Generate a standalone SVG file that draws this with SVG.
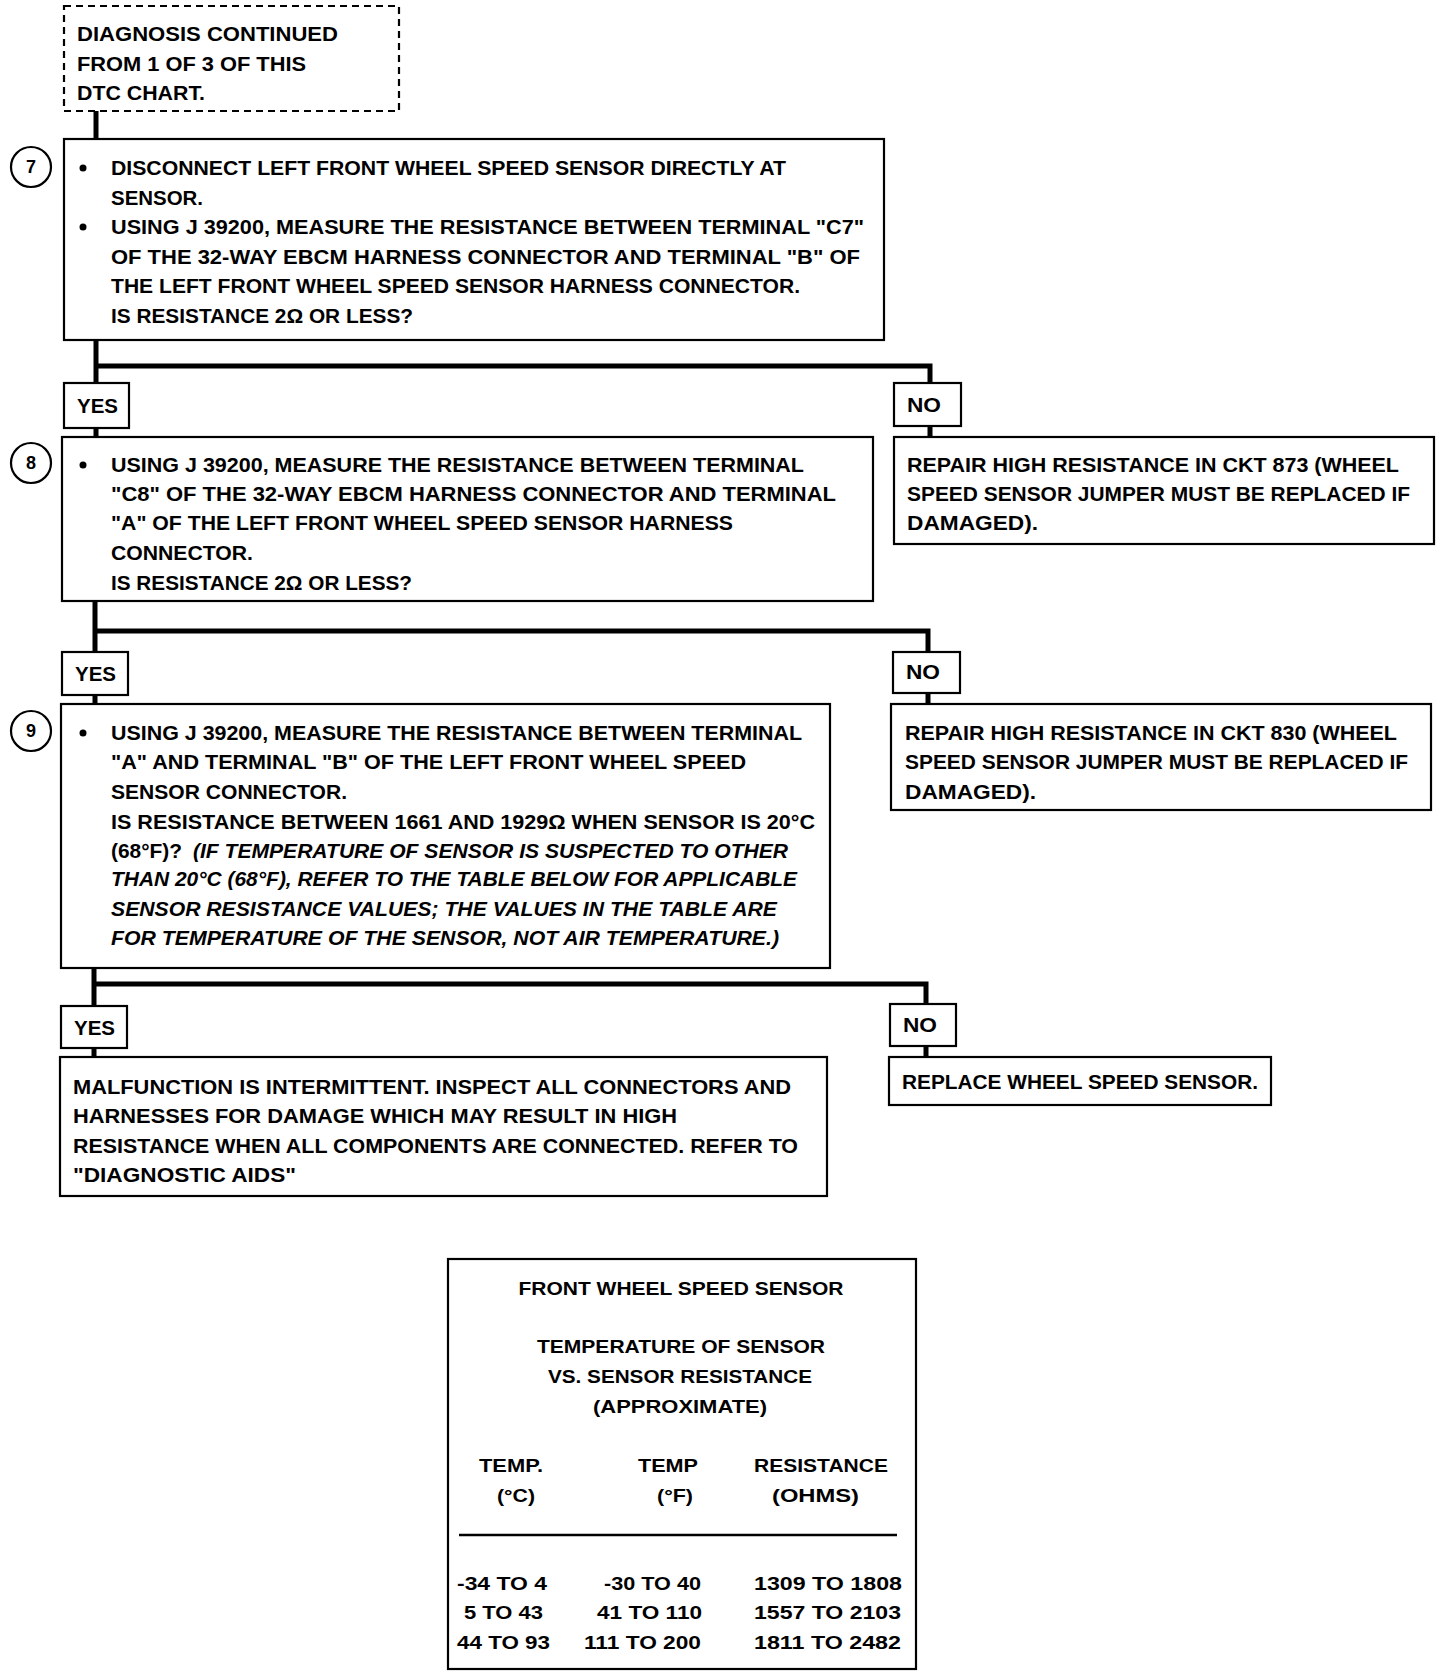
<svg xmlns="http://www.w3.org/2000/svg" width="1456" height="1678" viewBox="0 0 1456 1678">
<style>
.box{fill:#fff;stroke:#000;stroke-width:2.2}
.dash{fill:#fff;stroke:#000;stroke-width:2.2;stroke-dasharray:7 5}
.t{font-family:"Liberation Sans",Arial,sans-serif;font-weight:bold;font-size:20px;fill:#000}
.i{font-style:italic}
.tb{font-family:"Liberation Sans",Arial,sans-serif;font-weight:bold;font-size:19px;fill:#000}
.c{text-anchor:middle}
.num{font-family:"Liberation Sans",Arial,sans-serif;font-weight:bold;font-size:18px;text-anchor:middle;fill:#000}
.conn{fill:none;stroke:#000;stroke-width:5}
.ring{fill:#fff;stroke:#000;stroke-width:2.2}
</style>
<rect width="1456" height="1678" fill="#fff"/>
<g id="connectors">
<path class="conn" d="M96 111 V139"/>
<path class="conn" d="M96 340 V383 M96 428 V437"/>
<path class="conn" d="M96 366 H930 V383 M930 425 V437"/>
<path class="conn" d="M95 601 V652 M95 695 V704"/>
<path class="conn" d="M95 631 H928 V652 M928 693 V704"/>
<path class="conn" d="M94 968 V1006 M94 1048 V1057"/>
<path class="conn" d="M94 984 H926 V1004 M926 1046 V1057"/>
</g>
<g id="start">
<rect class="dash" x="64" y="6" width="335" height="105"/>
<text class="t" x="77" y="41" textLength="261" lengthAdjust="spacingAndGlyphs">DIAGNOSIS CONTINUED</text>
<text class="t" x="77" y="71" textLength="229" lengthAdjust="spacingAndGlyphs">FROM 1 OF 3 OF THIS</text>
<text class="t" x="77" y="100" textLength="128" lengthAdjust="spacingAndGlyphs">DTC CHART.</text>
</g>
<g id="step7">
<rect class="box" x="64" y="139" width="820" height="201"/>
<circle class="ring" cx="31" cy="167" r="20"/>
<text class="num" x="31" y="173">7</text>
<circle cx="83" cy="168" r="3.5"/>
<circle cx="83" cy="227" r="3.5"/>
<text class="t" x="111" y="175" textLength="675" lengthAdjust="spacingAndGlyphs">DISCONNECT LEFT FRONT WHEEL SPEED SENSOR DIRECTLY AT</text>
<text class="t" x="111" y="205" textLength="92" lengthAdjust="spacingAndGlyphs">SENSOR.</text>
<text class="t" x="111" y="234" textLength="753" lengthAdjust="spacingAndGlyphs">USING J 39200, MEASURE THE RESISTANCE BETWEEN TERMINAL "C7"</text>
<text class="t" x="111" y="264" textLength="749" lengthAdjust="spacingAndGlyphs">OF THE 32-WAY EBCM HARNESS CONNECTOR AND TERMINAL "B" OF</text>
<text class="t" x="111" y="293" textLength="689" lengthAdjust="spacingAndGlyphs">THE LEFT FRONT WHEEL SPEED SENSOR HARNESS CONNECTOR.</text>
<text class="t" x="111" y="323" textLength="302" lengthAdjust="spacingAndGlyphs">IS RESISTANCE 2Ω OR LESS?</text>
</g>
<g id="yes1">
<rect class="box" x="64" y="383" width="65" height="45"/>
<text class="t" x="77" y="413" textLength="41" lengthAdjust="spacingAndGlyphs">YES</text>
</g>
<g id="no1">
<rect class="box" x="894" y="383" width="67" height="43"/>
<text class="t" x="907" y="412" textLength="34" lengthAdjust="spacingAndGlyphs">NO</text>
</g>
<g id="repair873">
<rect class="box" x="894" y="437" width="540" height="107"/>
<text class="t" x="907" y="472" textLength="492" lengthAdjust="spacingAndGlyphs">REPAIR HIGH RESISTANCE IN CKT 873 (WHEEL</text>
<text class="t" x="907" y="501" textLength="503" lengthAdjust="spacingAndGlyphs">SPEED SENSOR JUMPER MUST BE REPLACED IF</text>
<text class="t" x="907" y="530" textLength="131" lengthAdjust="spacingAndGlyphs">DAMAGED).</text>
</g>
<g id="step8">
<rect class="box" x="62" y="437" width="811" height="164"/>
<circle class="ring" cx="31" cy="463" r="20"/>
<text class="num" x="31" y="469">8</text>
<circle cx="83" cy="465" r="3.5"/>
<text class="t" x="111" y="472" textLength="693" lengthAdjust="spacingAndGlyphs">USING J 39200, MEASURE THE RESISTANCE BETWEEN TERMINAL</text>
<text class="t" x="111" y="501" textLength="725" lengthAdjust="spacingAndGlyphs">"C8" OF THE 32-WAY EBCM HARNESS CONNECTOR AND TERMINAL</text>
<text class="t" x="111" y="530" textLength="622" lengthAdjust="spacingAndGlyphs">"A" OF THE LEFT FRONT WHEEL SPEED SENSOR HARNESS</text>
<text class="t" x="111" y="560" textLength="142" lengthAdjust="spacingAndGlyphs">CONNECTOR.</text>
<text class="t" x="111" y="590" textLength="301" lengthAdjust="spacingAndGlyphs">IS RESISTANCE 2Ω OR LESS?</text>
</g>
<g id="yes2">
<rect class="box" x="62" y="652" width="66" height="43"/>
<text class="t" x="75" y="681" textLength="41" lengthAdjust="spacingAndGlyphs">YES</text>
</g>
<g id="no2">
<rect class="box" x="893" y="652" width="67" height="41"/>
<text class="t" x="906" y="679" textLength="34" lengthAdjust="spacingAndGlyphs">NO</text>
</g>
<g id="repair830">
<rect class="box" x="891" y="704" width="540" height="106"/>
<text class="t" x="905" y="740" textLength="492" lengthAdjust="spacingAndGlyphs">REPAIR HIGH RESISTANCE IN CKT 830 (WHEEL</text>
<text class="t" x="905" y="769" textLength="503" lengthAdjust="spacingAndGlyphs">SPEED SENSOR JUMPER MUST BE REPLACED IF</text>
<text class="t" x="905" y="799" textLength="131" lengthAdjust="spacingAndGlyphs">DAMAGED).</text>
</g>
<g id="step9">
<rect class="box" x="61" y="704" width="769" height="264"/>
<circle class="ring" cx="31" cy="731" r="20"/>
<text class="num" x="31" y="737">9</text>
<circle cx="83" cy="733" r="3.5"/>
<text class="t" x="111" y="740" textLength="691" lengthAdjust="spacingAndGlyphs">USING J 39200, MEASURE THE RESISTANCE BETWEEN TERMINAL</text>
<text class="t" x="111" y="769" textLength="635" lengthAdjust="spacingAndGlyphs">"A" AND TERMINAL "B" OF THE LEFT FRONT WHEEL SPEED</text>
<text class="t" x="111" y="799" textLength="236" lengthAdjust="spacingAndGlyphs">SENSOR CONNECTOR.</text>
<text class="t" x="111" y="829" textLength="704" lengthAdjust="spacingAndGlyphs">IS RESISTANCE BETWEEN 1661 AND 1929Ω WHEN SENSOR IS 20°C</text>
<text class="t" x="111" y="858" textLength="71" lengthAdjust="spacingAndGlyphs">(68°F)?</text>
<text class="t i" x="193" y="858" textLength="595" lengthAdjust="spacingAndGlyphs">(IF TEMPERATURE OF SENSOR IS SUSPECTED TO OTHER</text>
<text class="t i" x="111" y="886" textLength="686" lengthAdjust="spacingAndGlyphs">THAN 20°C (68°F), REFER TO THE TABLE BELOW FOR APPLICABLE</text>
<text class="t i" x="111" y="916" textLength="666" lengthAdjust="spacingAndGlyphs">SENSOR RESISTANCE VALUES; THE VALUES IN THE TABLE ARE</text>
<text class="t i" x="111" y="945" textLength="668" lengthAdjust="spacingAndGlyphs">FOR TEMPERATURE OF THE SENSOR, NOT AIR TEMPERATURE.)</text>
</g>
<g id="yes3">
<rect class="box" x="61" y="1006" width="66" height="42"/>
<text class="t" x="74" y="1035" textLength="41" lengthAdjust="spacingAndGlyphs">YES</text>
</g>
<g id="no3">
<rect class="box" x="890" y="1004" width="66" height="42"/>
<text class="t" x="903" y="1032" textLength="34" lengthAdjust="spacingAndGlyphs">NO</text>
</g>
<g id="replace">
<rect class="box" x="889" y="1057" width="382" height="48"/>
<text class="t" x="902" y="1089" textLength="356" lengthAdjust="spacingAndGlyphs">REPLACE WHEEL SPEED SENSOR.</text>
</g>
<g id="intermittent">
<rect class="box" x="60" y="1057" width="767" height="139"/>
<text class="t" x="73" y="1094" textLength="718" lengthAdjust="spacingAndGlyphs">MALFUNCTION IS INTERMITTENT. INSPECT ALL CONNECTORS AND</text>
<text class="t" x="73" y="1123" textLength="604" lengthAdjust="spacingAndGlyphs">HARNESSES FOR DAMAGE WHICH MAY RESULT IN HIGH</text>
<text class="t" x="73" y="1153" textLength="725" lengthAdjust="spacingAndGlyphs">RESISTANCE WHEN ALL COMPONENTS ARE CONNECTED. REFER TO</text>
<text class="t" x="73" y="1182" textLength="223" lengthAdjust="spacingAndGlyphs">"DIAGNOSTIC AIDS"</text>
</g>
<g id="table">
<rect class="box" x="448" y="1259" width="468" height="410"/>
<text class="tb c" x="681" y="1295" textLength="325" lengthAdjust="spacingAndGlyphs">FRONT WHEEL SPEED SENSOR</text>
<text class="tb c" x="681" y="1353" textLength="288" lengthAdjust="spacingAndGlyphs">TEMPERATURE OF SENSOR</text>
<text class="tb c" x="680" y="1383" textLength="264" lengthAdjust="spacingAndGlyphs">VS. SENSOR RESISTANCE</text>
<text class="tb c" x="680" y="1413" textLength="174" lengthAdjust="spacingAndGlyphs">(APPROXIMATE)</text>
<text class="tb" x="479" y="1472" textLength="64" lengthAdjust="spacingAndGlyphs">TEMP.</text>
<text class="tb" x="497" y="1502" textLength="38" lengthAdjust="spacingAndGlyphs">(°C)</text>
<text class="tb" x="638" y="1472" textLength="60" lengthAdjust="spacingAndGlyphs">TEMP</text>
<text class="tb" x="657" y="1502" textLength="36" lengthAdjust="spacingAndGlyphs">(°F)</text>
<text class="tb" x="754" y="1472" textLength="134" lengthAdjust="spacingAndGlyphs">RESISTANCE</text>
<text class="tb" x="772" y="1502" textLength="87" lengthAdjust="spacingAndGlyphs">(OHMS)</text>
<line x1="459" y1="1535" x2="897" y2="1535" stroke="#000" stroke-width="2.5"/>
<text class="tb" x="457" y="1590" textLength="90" lengthAdjust="spacingAndGlyphs">-34 TO 4</text>
<text class="tb" x="464" y="1619" textLength="79" lengthAdjust="spacingAndGlyphs">5 TO 43</text>
<text class="tb" x="457" y="1649" textLength="93" lengthAdjust="spacingAndGlyphs">44 TO 93</text>
<text class="tb" x="604" y="1590" textLength="97" lengthAdjust="spacingAndGlyphs">-30 TO 40</text>
<text class="tb" x="597" y="1619" textLength="105" lengthAdjust="spacingAndGlyphs">41 TO 110</text>
<text class="tb" x="584" y="1649" textLength="117" lengthAdjust="spacingAndGlyphs">111 TO 200</text>
<text class="tb" x="754" y="1590" textLength="148" lengthAdjust="spacingAndGlyphs">1309 TO 1808</text>
<text class="tb" x="754" y="1619" textLength="147" lengthAdjust="spacingAndGlyphs">1557 TO 2103</text>
<text class="tb" x="754" y="1649" textLength="147" lengthAdjust="spacingAndGlyphs">1811 TO 2482</text>
</g>
</svg>
